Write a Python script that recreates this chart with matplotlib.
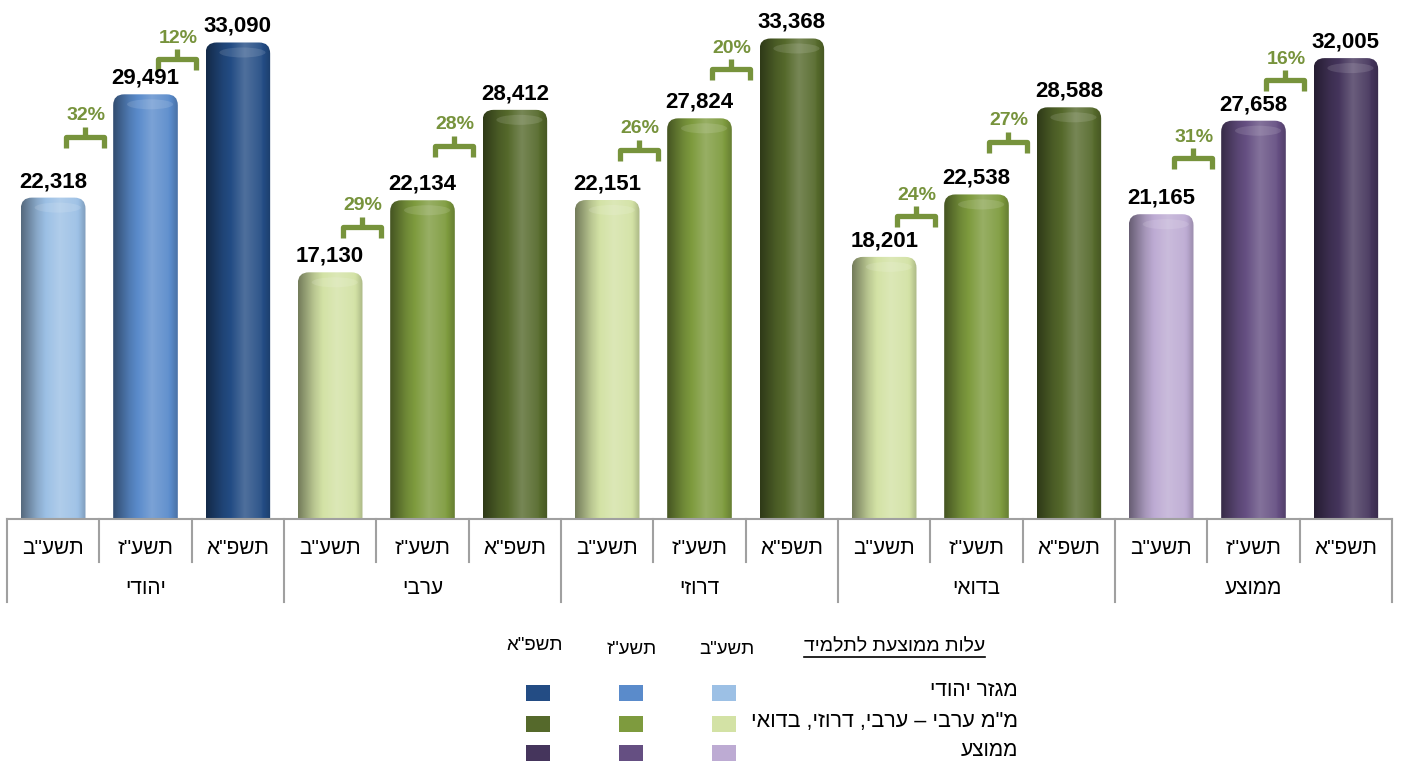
import numpy as np
import matplotlib
matplotlib.use("Agg")
import matplotlib.pyplot as plt
from matplotlib.patches import FancyBboxPatch, Ellipse, Rectangle
from matplotlib.lines import Line2D
from matplotlib.path import Path
from matplotlib.patches import PathPatch
import matplotlib.transforms as mtransforms
from matplotlib.colors import to_rgb

plt.rcParams['font.family'] = ['Liberation Sans', 'DejaVu Sans']

# average cost per student, by sector and year
sectors = ['יהודי', 'ערבי', 'דרוזי', 'בדואי', 'ממוצע']
years = ['תשע"ב', 'תשע"ז', 'תשפ"א']
cost_yehudi = [22318, 29491, 33090]
cost_aravi = [17130, 22134, 28412]
cost_druzi = [22151, 27824, 33368]
cost_bedui = [18201, 22538, 28588]
cost_avg = [21165, 27658, 32005]

blues = ['#9CC0E5', '#5A8BCB', '#234C84']
greens = ['#D3E2A5', '#7E9B3E', '#55692B']
purples = ['#BDABD3', '#654F82', '#45355C']
pct_color = '#77933C'

legend_title = 'עלות ממוצעת לתלמיד'
legend_rows = ['מגזר יהודי', 'מ"מ ערבי – ערבי, דרוזי, בדואי', 'ממוצע']


def heb(s):
    # no bidi in matplotlib: hand it the string in visual (left-to-right) order
    return s[::-1]


def shade(color, k):
    c = np.array(to_rgb(color))
    if k < 0:
        return c * (1 + k)
    return c + (1 - c) * k


def cylinder_img(color, n=80):
    t = np.linspace(0, 1, n)
    k = np.interp(t, [0, 0.25, 0.6, 0.85, 1], [-0.45, -0.12, 0.2, 0.06, -0.18])
    return np.array([[shade(color, kk) for kk in k]])


values = cost_yehudi + cost_aravi + cost_druzi + cost_bedui + cost_avg
palette = [blues, greens, greens, greens, purples]
colors = [palette[i // 3][i % 3] for i in range(len(values))]

W, H = 1402, 762
fig = plt.figure(figsize=(W / 100, H / 100), dpi=100)
ax = fig.add_axes([7 / W, (H - 519) / H, 1385 / W, 519 / H])
ymax = 36040
px_per_unit = 519 / ymax
ax.axis('off')

bw = 0.7
rnd = 0.12
aspect = (11 / px_per_unit) / rnd
for i, (v, c) in enumerate(zip(values, colors)):
    x0 = i - bw / 2
    clip = FancyBboxPatch((x0, -3000), bw, v + 3000,
                          boxstyle=f'round,pad=0,rounding_size={rnd}',
                          mutation_aspect=aspect, facecolor='none',
                          edgecolor='none', transform=ax.transData)
    ax.add_patch(clip)
    im = ax.imshow(cylinder_img(c), extent=[x0, x0 + bw, 0, v], aspect='auto',
                   interpolation='bilinear', zorder=2)
    im.set_clip_path(clip)
    cap = Ellipse((i + 0.05, v - 10 / px_per_unit), 0.5, 10 / px_per_unit,
                  facecolor='white', alpha=0.12, edgecolor='none', zorder=3)
    ax.add_patch(cap)
    cap.set_clip_path(clip)
    ax.annotate(f'{v:,}', (i, v), xytext=(0, 4), textcoords='offset points',
                ha='center', va='bottom', fontsize=16, fontweight='bold',
                color='black', zorder=5)

ax.set_xlim(-0.5, len(values) - 0.5)
ax.set_ylim(0, ymax)

# growth brackets between consecutive years
bx = np.array([-19, -19, 19, 19]) / 100
by = np.array([-11, 0, 0, -11]) / 100
for g in range(len(sectors)):
    for j in range(2):
        i = g * 3 + j
        lo, hi = values[i], values[i + 1]
        pct = round((hi / lo - 1) * 100)
        xc = i + 0.5 - 0.16
        yc = (lo + hi) / 2 + 650
        tr = fig.dpi_scale_trans + mtransforms.ScaledTranslation(xc, yc, ax.transData)
        verts = [(bx[0], by[0]), (bx[1], by[1]), (bx[2], by[2]), (bx[3], by[3]),
                 (0, 0), (0, 0.1)]
        codes = [Path.MOVETO, Path.LINETO, Path.LINETO, Path.LINETO,
                 Path.MOVETO, Path.LINETO]
        ax.add_patch(PathPatch(Path(verts, codes), transform=tr, fill=False,
                               edgecolor=pct_color, lw=3.8, joinstyle='round',
                               capstyle='butt', zorder=4))
        ax.annotate(f'{pct}%', (xc, yc), xytext=(1, 9), textcoords='offset points',
                    ha='center', va='bottom', fontsize=14, fontweight='bold',
                    color=pct_color, zorder=5)

# category table under the bars
xt = ax.get_xaxis_transform()
line_c = '#A0A0A0'
ax.plot([-0.5, len(values) - 0.5], [0, 0], color=line_c, lw=1.5,
        transform=xt, clip_on=False, zorder=6)
for k in range(len(values) + 1):
    bottom = -83 / 519 if k % 3 == 0 else -43 / 519
    ax.plot([k - 0.5, k - 0.5], [0, bottom], color=line_c, lw=1.5,
            transform=xt, clip_on=False)
for i in range(len(values)):
    ax.text(i, -29 / 519, heb(years[i % 3]), transform=xt, ha='center',
            va='center', fontsize=15)
for g, s in enumerate(sectors):
    ax.text(g * 3 + 1, -69 / 519, heb(s), transform=xt, ha='center',
            va='center', fontsize=15)


# legend table
def fx(px):
    return px / W


def fy(py):
    return 1 - py / H


title = fig.text(fx(985), fy(647), heb(legend_title), ha='right', va='center',
                 fontsize=14)
for yr, cx, cy in zip(years, [727, 632, 535], [650, 649, 646]):
    fig.text(fx(cx), fy(cy), heb(yr), ha='center', va='center', fontsize=13.5)
row_y = [693, 724, 753]
row_fs = [15, 15.5, 15]
for r, (label, ry, pal) in enumerate(zip(legend_rows, row_y, [blues, greens, purples])):
    fig.text(fx(1018), fy(ry - 2), heb(label), ha='right', va='center',
             fontsize=row_fs[r])
    for col, cx in enumerate([724, 631, 538]):
        fig.add_artist(Rectangle((fx(cx - 12), fy(ry + 8)), fx(24), 16 / H,
                                 facecolor=pal[col], edgecolor='none',
                                 transform=fig.transFigure))

fig.canvas.draw()
bb = title.get_window_extent()
fig.add_artist(Line2D([bb.x0 / W, bb.x1 / W], [(bb.y0 - 1) / H, (bb.y0 - 1) / H],
                      color='black', lw=1.2, transform=fig.transFigure))

fig.savefig('out.png', dpi=100)
